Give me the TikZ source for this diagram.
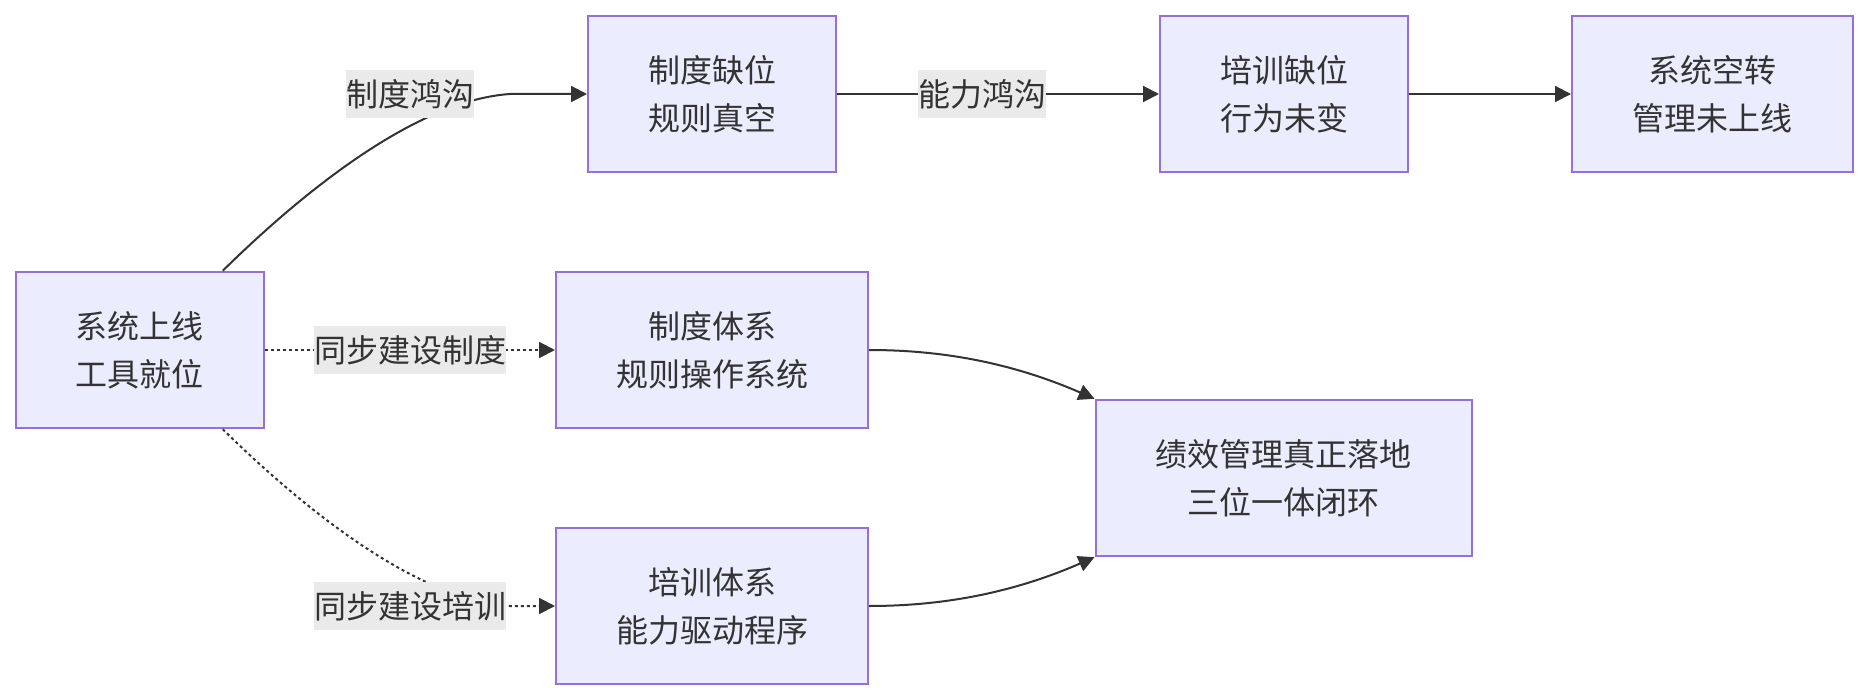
\documentclass[tikz,border=0pt]{standalone}
\usepackage{fontspec}
\setmainfont{Noto Sans CJK SC}
\usetikzlibrary{arrows.meta}
\definecolor{nodefill}{HTML}{ECECFF}
\definecolor{nodeline}{HTML}{9370DB}
\definecolor{edgecol}{HTML}{333333}
\definecolor{txtcol}{HTML}{333333}
\definecolor{labelbg}{RGB}{234,234,234}
\tikzset{
  box/.style={draw=nodeline, fill=nodefill, line width=2pt, minimum height=156.5pt,
    inner sep=0pt, align=center, text=txtcol, font=\fontsize{32}{48}\selectfont},
  elabel/.style={fill=labelbg, inner sep=0pt, minimum height=48pt, text=txtcol,
    font=\fontsize{32}{48}\selectfont},
  link/.style={draw=edgecol, line width=2pt, -{Triangle[length=16pt,width=16pt]}},
  dotlink/.style={link, dash pattern=on 3pt off 3pt},
}
\begin{document}
\begin{tikzpicture}[x=1pt,y=-1pt]
\useasboundingbox (0,0) rectangle (1868,700);
\node[box, minimum width=248.5pt] (A) at (139.75,350) {系统上线\\工具就位};
\node[box, minimum width=248pt] (B) at (712,94) {制度缺位\\规则真空};
\node[box, minimum width=248pt] (C) at (1284,94) {培训缺位\\行为未变};
\node[box, minimum width=281pt] (D) at (1712.5,94) {系统空转\\管理未上线};
\node[box, minimum width=312pt] (E) at (712,350) {制度体系\\规则操作系统};
\node[box, minimum width=312pt] (F) at (712,606) {培训体系\\能力驱动程序};
\node[box, minimum width=376.5pt] (G) at (1283.75,478) {绩效管理真正落地\\三位一体闭环};

\draw[link] ([xshift=83pt]A.north) .. controls (310,185) and (420,100) .. (510,94) -- (B.west);
\draw[dotlink] (A.east) -- (E.west);
\draw[dotlink] ([xshift=83pt]A.south) .. controls (310,515) and (420,600) .. (510,606) -- (F.west);
\draw[link] (B.east) -- (C.west);
\draw[link] (C.east) -- (D.west);
\draw[link] (E.east) .. controls (940,350) and (1010,362) .. (G.north west);
\draw[link] (F.east) .. controls (940,606) and (1010,594) .. (G.south west);

\node[elabel] (l1) at (410,94) {制度鸿沟};
\node[elabel] (l2) at (410,350) {同步建设制度};
\node[elabel] (l3) at (410,606) {同步建设培训};
\node[elabel] (l4) at (982,94) {能力鸿沟};
\end{tikzpicture}
\end{document}
